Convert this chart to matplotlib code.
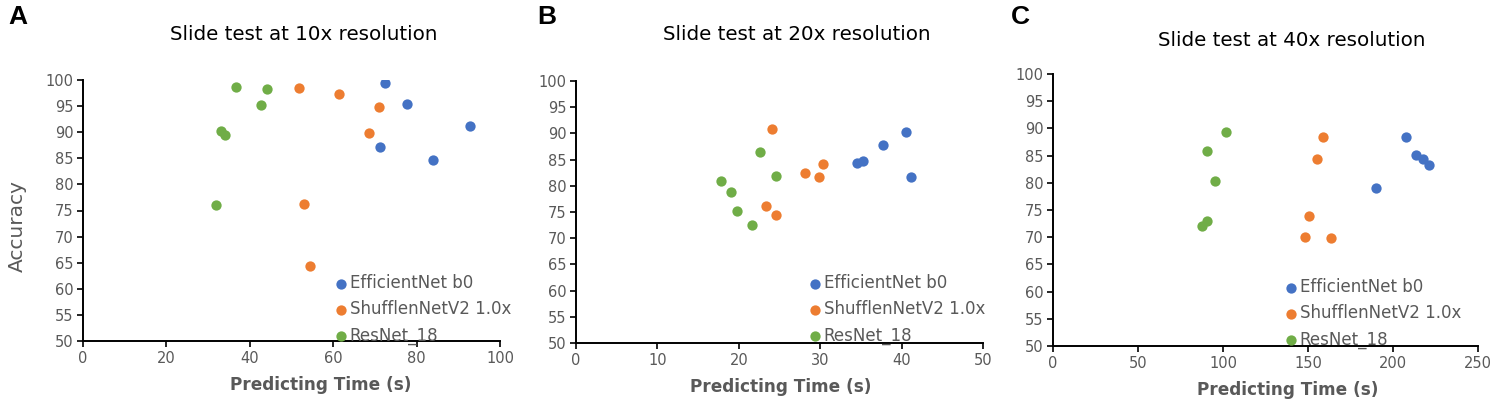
import numpy as np
import matplotlib
matplotlib.use("Agg")
import matplotlib.pyplot as plt

# series names and colours (Excel default palette)
models = ["EfficientNet b0", "ShufflenNetV2 1.0x", "ResNet_18"]
colors = ["#4472C4", "#ED7D31", "#70AD47"]

# 10x resolution
t10_eff = [72.4, 77.6, 92.7, 71.3, 83.9]
a10_eff = [99.5, 95.4, 91.1, 87.2, 84.6]
t10_shu = [51.8, 61.3, 70.9, 68.7, 53.1, 54.5]
a10_shu = [98.4, 97.3, 94.8, 89.8, 76.3, 64.3]
t10_res = [36.7, 44.1, 42.7, 33.1, 34.0, 31.8]
a10_res = [98.6, 98.2, 95.2, 90.2, 89.5, 76.1]

# 20x resolution
t20_eff = [34.5, 35.3, 37.7, 40.6, 41.2]
a20_eff = [84.4, 84.8, 87.7, 90.3, 81.6]
t20_shu = [24.1, 23.4, 24.6, 28.1, 29.8, 30.4]
a20_shu = [90.9, 76.1, 74.4, 82.5, 81.6, 84.2]
t20_res = [17.8, 19.1, 19.8, 21.6, 22.6, 24.6]
a20_res = [81.0, 78.8, 75.2, 72.5, 86.4, 81.9]

# 40x resolution
t40_eff = [207.9, 213.8, 217.4, 220.9, 189.9]
a40_eff = [88.5, 85.1, 84.3, 83.3, 79.0]
t40_shu = [158.7, 155.5, 150.4, 148.2, 163.4]
a40_shu = [88.4, 84.4, 73.9, 70.0, 69.9]
t40_res = [101.7, 90.3, 95.4, 90.3, 87.8]
a40_res = [89.3, 85.9, 80.3, 73.0, 72.1]

W, H = 1499, 403
fig = plt.figure(figsize=(W / 100, H / 100), dpi=100)
plt.rcParams['font.family'] = ['DejaVu Sans']

grey = "#595959"

panels = [
    dict(letter="A", title="Slide test at 10x resolution",
         data=[(t10_eff, a10_eff), (t10_shu, a10_shu), (t10_res, a10_res)],
         xmax=100, xstep=20, box=(83, 80, 500, 341),
         title_xy=(304, 35), xlab_xy=(321, 385), leg_xy=(333, 274), letter_x=8),
    dict(letter="B", title="Slide test at 20x resolution",
         data=[(t20_eff, a20_eff), (t20_shu, a20_shu), (t20_res, a20_res)],
         xmax=50, xstep=10, box=(576, 81, 983, 343),
         title_xy=(797, 35), xlab_xy=(781, 387), leg_xy=(807, 274), letter_x=537),
    dict(letter="C", title="Slide test at 40x resolution",
         data=[(t40_eff, a40_eff), (t40_shu, a40_shu), (t40_res, a40_res)],
         xmax=250, xstep=50, box=(1053, 74, 1478, 346),
         title_xy=(1292, 40), xlab_xy=(1288, 390), leg_xy=(1283, 278), letter_x=1011),
]

for p in panels:
    l, t, r, b = p["box"]
    ax = fig.add_axes([l / W, 1 - b / H, (r - l) / W, (b - t) / H])
    for (xs, ys), name, c in zip(p["data"], models, colors):
        ax.scatter(xs, ys, s=55, color=c, label=name, zorder=3, linewidths=0)
    ax.set_xlim(0, p["xmax"])
    ax.set_ylim(50, 100)
    ax.set_xticks(np.arange(0, p["xmax"] + 1, p["xstep"]))
    ax.set_yticks(np.arange(50, 101, 5))
    for s in ["top", "right"]:
        ax.spines[s].set_visible(False)
    for s in ["left", "bottom"]:
        ax.spines[s].set_linewidth(1.4)
        ax.spines[s].set_color("black")
    ax.tick_params(axis="both", direction="out", length=4, width=1.2,
                   labelsize=10.5, labelcolor=grey, pad=3)
    ax.set_facecolor("none")

    fig.text(p["title_xy"][0] / W, 1 - p["title_xy"][1] / H, p["title"],
             ha="center", va="center", fontsize=14.3, color="black")
    fig.text(p["xlab_xy"][0] / W, 1 - p["xlab_xy"][1] / H, "Predicting Time (s)",
             ha="center", va="center", fontsize=12.2, color=grey, fontweight="semibold")
    fig.text(p["letter_x"] / W, 1 - 17 / H, p["letter"], ha="left", va="center",
             fontsize=19, fontweight="bold", color="black", family="Liberation Sans")

    leg = ax.legend(loc="upper left",
                    bbox_to_anchor=(p["leg_xy"][0] / W, 1 - p["leg_xy"][1] / H),
                    bbox_transform=fig.transFigure, frameon=False,
                    fontsize=12, handletextpad=0.0, handlelength=1.0,
                    labelspacing=0.5, borderaxespad=0, borderpad=0,
                    markerscale=1.0)
    for txt in leg.get_texts():
        txt.set_color(grey)
    leg.set_zorder(5)

fig.text(17 / W, 1 - 226 / H, "Accuracy", rotation=90, ha="center", va="center",
         fontsize=14.5, color=grey)

fig.savefig("out.png", dpi=100)
